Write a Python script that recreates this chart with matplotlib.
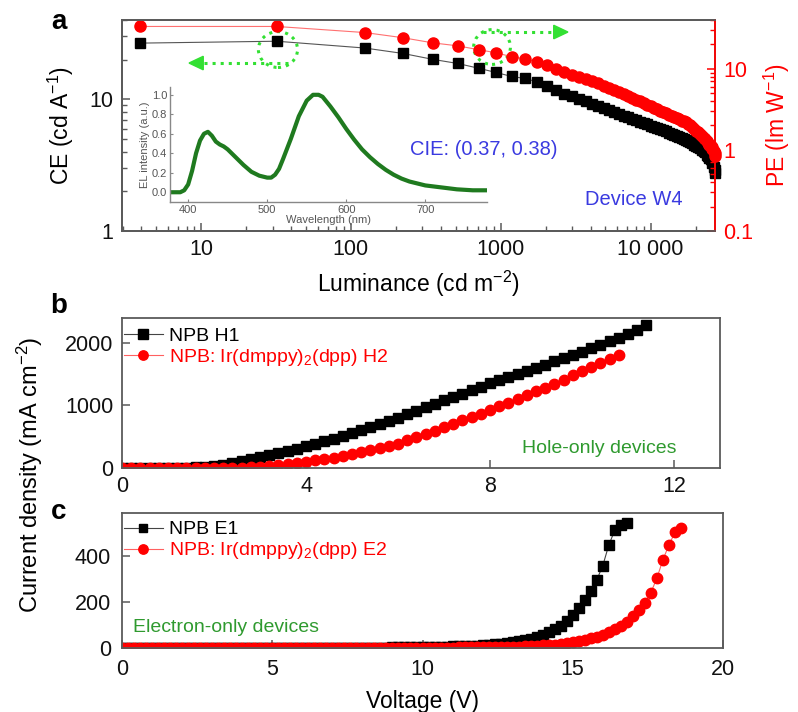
import matplotlib
matplotlib.use('Agg')
import matplotlib.pyplot as plt
from matplotlib.patches import Ellipse, Polygon

plt.rcParams['font.family'] = ['Liberation Sans', 'DejaVu Sans']
plt.rcParams['mathtext.fontset'] = 'custom'
plt.rcParams['mathtext.rm'] = 'Liberation Sans'
plt.rcParams['mathtext.default'] = 'regular'
plt.rcParams['xtick.direction'] = 'in'
plt.rcParams['ytick.direction'] = 'in'

# ---- panel a: efficiency vs luminance (device W4)
lum = [3.9, 32, 124, 222, 352, 517, 713, 926, 1184, 1445, 1738, 2026,
       2328, 2630, 2975, 3311, 3687, 4045, 4436, 4864, 5248, 5662, 6118,
       6607, 7031, 7470, 7943, 8453, 8974, 9397, 10000, 10470, 10965,
       11482, 12023, 12589, 13183, 13804, 14230, 14894, 15376, 16096,
       16596, 17100, 17660, 18197, 18750, 19360, 19953, 20560, 21230,
       21878, 22550, 22909, 23610, 23988, 24717, 25119, 25527, 25882,
       26303, 26730, 26900]
ce = [26.7, 27.6, 24.5, 22.3, 20.1, 18.7, 17.2, 16.0, 14.9, 14.4, 13.6, 12.6,
      11.7, 11.0, 10.5, 10.07, 9.64, 9.29, 8.95, 8.58, 8.30, 8.01, 7.74,
      7.48, 7.28, 7.09, 6.91, 6.74, 6.57, 6.44, 6.29, 6.17, 6.05,
      5.94, 5.82, 5.70, 5.57, 5.45, 5.37, 5.26, 5.18, 5.07,
      5.00, 4.92, 4.84, 4.73, 4.63, 4.53, 4.44, 4.34, 4.25,
      4.15, 4.03, 3.95, 3.80, 3.73, 3.59, 3.52, 3.45, 3.26,
      3.07, 2.90, 2.75]
pe = [33.3, 33.3, 28.0, 24.2, 20.9, 19.2, 17.2, 15.8, 14.1, 13.3, 12.2, 11.0,
      9.89, 9.11, 8.46, 7.92, 7.42, 7.03, 6.64, 6.17, 5.81, 5.47, 5.16,
      4.84, 4.63, 4.40, 4.18, 3.97, 3.76, 3.62, 3.44, 3.31, 3.18,
      3.06, 2.95, 2.83, 2.72, 2.62, 2.55, 2.45, 2.39, 2.30,
      2.24, 2.19, 2.10, 2.00, 1.90, 1.81, 1.72, 1.64, 1.56,
      1.49, 1.40, 1.36, 1.28, 1.23, 1.16, 1.12, 1.09, 1.03,
      0.97, 0.92, 0.84]

# inset: EL spectrum
wl = [378, 390, 395, 400, 405, 410, 415, 420, 425, 430, 435, 440, 445, 450,
      460, 470, 480, 490, 500, 505, 510, 515, 520, 530, 540, 550, 558, 565,
      570, 580, 590, 600, 610, 620, 630, 640, 650, 660, 670, 680, 690, 700,
      720, 740, 760, 778]
el = [0.0, 0.0, 0.02, 0.08, 0.22, 0.40, 0.53, 0.60, 0.62, 0.58, 0.52, 0.49,
      0.47, 0.44, 0.36, 0.28, 0.21, 0.17, 0.15, 0.15, 0.18, 0.24, 0.34, 0.55,
      0.78, 0.94, 1.0, 1.0, 0.98, 0.88, 0.77, 0.65, 0.54, 0.44, 0.36, 0.29,
      0.23, 0.18, 0.14, 0.11, 0.09, 0.07, 0.05, 0.03, 0.02, 0.02]

# ---- panel b: hole-only devices
v_h1 = [0.0, 0.2, 0.4, 0.6, 0.8, 1.0, 1.2, 1.4, 1.6, 1.8, 2.0, 2.2, 2.4, 2.6,
        2.8, 3.0, 3.2, 3.4, 3.6, 3.8, 4.0, 4.2, 4.4, 4.6, 4.8, 5.0, 5.2, 5.4,
        5.6, 5.8, 6.0, 6.2, 6.4, 6.6, 6.8, 7.0, 7.2, 7.4, 7.6, 7.8, 8.0, 8.2,
        8.4, 8.6, 8.8, 9.0, 9.2, 9.4, 9.6, 9.8, 10.0, 10.2, 10.4, 10.6, 10.8,
        11.0, 11.2, 11.4]
j_h1 = [0, 0, 0, 0, 0, 0, 0, 3, 10, 20, 35, 55, 80, 110,
        140, 170, 200, 235, 270, 305, 345, 385, 425, 470, 515, 560, 605, 655,
        705, 755, 805, 860, 915, 970, 1025, 1080, 1135, 1190, 1245, 1300, 1355, 1405,
        1455, 1505, 1555, 1605, 1655, 1705, 1755, 1805, 1860, 1915, 1970, 2025, 2080,
        2150, 2215, 2280]
v_h2 = [0.0, 0.2, 0.4, 0.6, 0.8, 1.0, 1.2, 1.4, 1.6, 1.8, 2.0, 2.2, 2.4, 2.6,
        2.8, 3.0, 3.2, 3.4, 3.6, 3.8, 4.0, 4.2, 4.4, 4.6, 4.8, 5.0, 5.2, 5.4,
        5.6, 5.8, 6.0, 6.2, 6.4, 6.6, 6.8, 7.0, 7.2, 7.4, 7.6, 7.8, 8.0, 8.2,
        8.4, 8.6, 8.8, 9.0, 9.2, 9.4, 9.6, 9.8, 10.0, 10.2, 10.4, 10.6, 10.8]
j_h2 = [0, 0, 0, 0, 0, 0, 0, 0, 0, 0, 0, 0, 0, 5,
        10, 20, 30, 45, 60, 80, 100, 120, 140, 165, 190, 220, 250, 285,
        320, 355, 390, 440, 490, 540, 595, 650, 705, 760, 815, 870, 925, 985,
        1045, 1105, 1165, 1225, 1285, 1350, 1415, 1480, 1545, 1610, 1680, 1745, 1810]

# ---- panel c: electron-only devices
v_e1 = [0.0, 0.2, 0.4, 0.6, 0.8, 1.0, 1.2, 1.4, 1.6, 1.8, 2.0, 2.2, 2.4, 2.6,
        2.8, 3.0, 3.2, 3.4, 3.6, 3.8, 4.0, 4.2, 4.4, 4.6, 4.8, 5.0, 5.2, 5.4,
        5.6, 5.8, 6.0, 6.2, 6.4, 6.6, 6.8, 7.0, 7.2, 7.4, 7.6, 7.8, 8.0, 8.2,
        8.4, 8.6, 8.8, 9.0, 9.2, 9.4, 9.6, 9.8, 10.0, 10.2, 10.4, 10.6, 10.8,
        11.0, 11.2, 11.4, 11.6, 11.8, 12.0, 12.2, 12.4, 12.6, 12.8, 13.0, 13.2,
        13.4, 13.6, 13.8, 14.0, 14.2, 14.4, 14.6, 14.8, 15.0, 15.2, 15.4, 15.6,
        15.8, 16.0, 16.2, 16.4, 16.6, 16.8]
j_e1 = [0, 0, 0, 0, 0, 0, 0, 0, 0, 0, 0, 0, 0, 0,
        0, 0, 0, 0, 0, 0, 0, 0, 0, 0, 0, 0, 0, 0,
        0, 0, 0, 0, 0, 0, 0, 0, 1, 1, 1, 1, 1, 2,
        2, 2, 2, 3, 3, 3, 4, 4, 4, 5, 5, 6, 6,
        7, 7, 8, 9, 10, 12, 14, 16, 19, 22, 26, 30,
        35, 41, 48, 57, 68, 82, 96, 116, 143, 175, 210, 250,
        298, 360, 450, 515, 538, 548]
v_e2 = [0.0, 0.2, 0.4, 0.6, 0.8, 1.0, 1.2, 1.4, 1.6, 1.8, 2.0, 2.2, 2.4, 2.6,
        2.8, 3.0, 3.2, 3.4, 3.6, 3.8, 4.0, 4.2, 4.4, 4.6, 4.8, 5.0, 5.2, 5.4,
        5.6, 5.8, 6.0, 6.2, 6.4, 6.6, 6.8, 7.0, 7.2, 7.4, 7.6, 7.8, 8.0, 8.2,
        8.4, 8.6, 8.8, 9.0, 9.2, 9.4, 9.6, 9.8, 10.0, 10.2, 10.4, 10.6, 10.8,
        11.0, 11.2, 11.4, 11.6, 11.8, 12.0, 12.2, 12.4, 12.6, 12.8, 13.0, 13.2,
        13.4, 13.6, 13.8, 14.0, 14.2, 14.4, 14.6, 14.8, 15.0, 15.2, 15.4, 15.6,
        15.8, 16.0, 16.2, 16.4, 16.6, 16.8, 17.0, 17.2, 17.4, 17.6, 17.8, 18.0,
        18.2, 18.4, 18.6]
j_e2 = [0, 0, 0, 0, 0, 0, 0, 0, 0, 0, 0, 0, 0, 0,
        0, 0, 0, 0, 0, 0, 0, 0, 0, 0, 0, 0, 0, 0,
        0, 0, 0, 0, 0, 0, 0, 0, 0, 0, 0, 0, 0, 0,
        0, 0, 0, 1, 1, 1, 1, 1, 1, 2, 2, 2, 2,
        2, 3, 3, 3, 3, 4, 4, 4, 5, 5, 5, 6,
        7, 8, 10, 11, 13, 15, 18, 21, 25, 29, 34, 42,
        50, 58, 68, 82, 96, 115, 142, 168, 197, 242, 305, 385,
        450, 505, 524]

SPINE = '#5a5a5a'
GREEN_TXT = '#2f9a2f'
ARROW_G = '#33e033'
TICK_FS = 15.5
LABEL_FS = 16.5


def style(ax, pad=6):
    for s in ax.spines.values():
        s.set_color(SPINE)
        s.set_linewidth(1.3)
    ax.tick_params(which='major', length=6, width=1.1, color=SPINE,
                   labelsize=TICK_FS, labelcolor='#111111', pad=pad)
    ax.tick_params(which='minor', length=3.5, width=1.0, color=SPINE)


fig = plt.figure(figsize=(7.98, 7.12), dpi=100)

# ================= panel a
ax = fig.add_axes([0.1529, 0.6756, 0.7431, 0.2963])
ax.set_xscale('log')
ax.set_yscale('log')
ax.plot(lum, ce, '-', color='#555555', lw=0.8, clip_on=False)
ax.plot(lum, ce, 's', color='black', ms=7, clip_on=False)
ax.set_xlim(2.97, 26900)
ax.set_ylim(1, 40)
ax.set_xticks([10, 100, 1000, 10000])
ax.set_xticklabels(['10', '100', '1000', '10 000'])
ax.set_yticks([1, 10])
ax.set_yticklabels(['1', '10'])
style(ax)
ax.tick_params(top=False, right=False, which='both')
ax.set_xlabel('Luminance (cd m$^{-2}$)', fontsize=LABEL_FS, labelpad=6)
ax.set_ylabel('CE (cd A$^{-1}$)', fontsize=LABEL_FS, labelpad=10)

ax2 = ax.twinx()
ax2.set_yscale('log')
ax2.plot(lum, pe, '-', color='#ff7070', lw=0.8, clip_on=False)
ax2.plot(lum, pe, 'o', color='red', ms=8, clip_on=False)
ax2.set_ylim(0.1, 40)
ax2.set_yticks([0.1, 1, 10])
ax2.set_yticklabels(['0.1', '1', '10'])
style(ax2)
ax2.spines['right'].set_color('red')
ax2.tick_params(which='both', colors='red', labelcolor='red')
ax2.set_ylabel('PE (lm W$^{-1}$)', fontsize=LABEL_FS, color='red', labelpad=6)

ax2.text(0.486, 0.384, 'CIE: (0.37, 0.38)', transform=ax2.transAxes,
         color='#3a3ae0', fontsize=14.5, va='center')
ax2.text(0.781, 0.147, 'Device W4', transform=ax2.transAxes,
         color='#3a3ae0', fontsize=14.5, va='center')

# dotted guide loops and arrows
ax2.add_patch(Ellipse((0.263, 0.86), 0.066, 0.17, transform=ax2.transAxes,
                      fill=False, ls=':', lw=2.2, ec=ARROW_G))
ax2.plot([0.28, 0.135], [0.796, 0.796], ':', color=ARROW_G, lw=2.2,
         transform=ax2.transAxes)
ax2.add_patch(Polygon([(0.113, 0.796), (0.137, 0.828), (0.137, 0.764)],
                      closed=True, transform=ax2.transAxes, color=ARROW_G))
ax2.add_patch(Ellipse((0.624, 0.872), 0.062, 0.165, transform=ax2.transAxes,
                      fill=False, ls=':', lw=2.2, ec=ARROW_G))
ax2.plot([0.609, 0.73], [0.943, 0.943], ':', color=ARROW_G, lw=2.2,
         transform=ax2.transAxes)
ax2.add_patch(Polygon([(0.752, 0.943), (0.728, 0.975), (0.728, 0.911)],
                      closed=True, transform=ax2.transAxes, color=ARROW_G))

# inset
axi = fig.add_axes([0.2130, 0.7163, 0.3972, 0.1615])
axi.patch.set_alpha(0)
axi.plot(wl, el, '-', color='#1f7a1f', lw=3)
axi.set_xlim(377, 778)
axi.set_ylim(-0.1, 1.08)
axi.set_xticks([400, 500, 600, 700])
axi.set_yticks([0.0, 0.2, 0.4, 0.6, 0.8, 1.0])
axi.set_yticklabels(['0.0', '0.2', '0.4', '0.6', '0.8', '1.0'])
for s in ['top', 'right']:
    axi.spines[s].set_visible(False)
for s in ['left', 'bottom']:
    axi.spines[s].set_color('#888888')
    axi.spines[s].set_linewidth(1.0)
axi.tick_params(length=2.5, width=0.8, color='#888888', labelsize=8,
                labelcolor='#555555', pad=2)
axi.set_xlabel('Wavelength (nm)', fontsize=8, color='#555555', labelpad=0)
axi.set_ylabel('EL intensity (a.u.)', fontsize=8, color='#555555', labelpad=1)

# ================= panel b
axb = fig.add_axes([0.1529, 0.3427, 0.7494, 0.2107])
axb.plot(v_h1, j_h1, 's-', color='#444444', mfc='black', mec='black', ms=7.5,
         lw=0.8, label='NPB H1')
axb.plot(v_h2, j_h2, 'o-', color='#ff6060', mfc='red', mec='red', ms=7.5,
         lw=0.8, label='NPB: Ir(dmppy)$_2$(dpp) H2')
axb.set_xlim(0, 13)
axb.set_ylim(0, 2400)
axb.set_xticks([0, 4, 8, 12])
axb.set_yticks([0, 1000, 2000])
style(axb)
leg = axb.legend(loc='upper left', bbox_to_anchor=(-0.01, 0.99), frameon=False,
                 fontsize=14, handlelength=2.0, handletextpad=0.3,
                 labelspacing=0.1, borderaxespad=0, markerscale=0.9)
leg.get_texts()[0].set_color('black')
leg.get_texts()[1].set_color('red')
axb.text(0.669, 0.133, 'Hole-only devices', transform=axb.transAxes,
         color=GREEN_TXT, fontsize=14, va='center')

# ================= panel c
axc = fig.add_axes([0.1529, 0.0899, 0.7531, 0.1896])
axc.plot(v_e1, j_e1, 's-', color='#444444', mfc='black', mec='black', ms=7,
         lw=0.8, label='NPB E1')
axc.plot(v_e2, j_e2, 'o-', color='#ff6060', mfc='red', mec='red', ms=7.5,
         lw=0.8, label='NPB: Ir(dmppy)$_2$(dpp) E2')
axc.set_xlim(0, 20)
axc.set_ylim(0, 590)
axc.set_xticks([0, 5, 10, 15, 20])
axc.set_yticks([0, 200, 400])
style(axc, pad=8)
axc.set_xlabel('Voltage (V)', fontsize=LABEL_FS, labelpad=7)
leg = axc.legend(loc='upper left', bbox_to_anchor=(-0.01, 1.0), frameon=False,
                 fontsize=14, handlelength=2.0, handletextpad=0.3,
                 labelspacing=0.1, borderaxespad=0, markerscale=0.9)
leg.get_texts()[0].set_color('black')
leg.get_texts()[1].set_color('red')
axc.text(0.018, 0.155, 'Electron-only devices', transform=axc.transAxes,
         color=GREEN_TXT, fontsize=14, va='center')

fig.text(0.0376, 1 - 475 / 712, 'Current density (mA cm$^{-2}$)', rotation=90,
         fontsize=17, ha='center', va='center')

# panel letters
fig.text(0.074, 1 - 22 / 712, 'a', fontsize=20, fontweight='bold',
         ha='center', va='center')
fig.text(0.074, 1 - 306 / 712, 'b', fontsize=20, fontweight='bold',
         ha='center', va='center')
fig.text(0.074, 1 - 512 / 712, 'c', fontsize=20, fontweight='bold',
         ha='center', va='center')

fig.savefig('out.png', dpi=100)
